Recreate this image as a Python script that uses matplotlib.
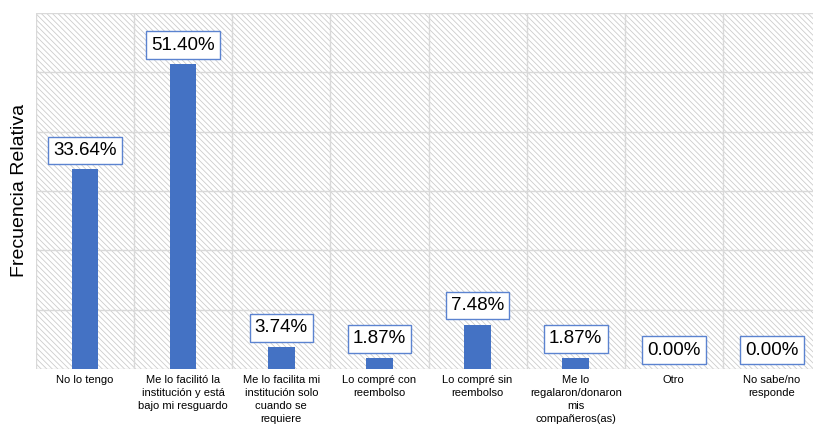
import matplotlib
matplotlib.use("Agg")
import matplotlib.pyplot as plt
from matplotlib.patches import Rectangle

categories = [
    "No lo tengo",
    "Me lo facilitó la\ninstitución y está\nbajo mi resguardo",
    "Me lo facilita mi\ninstitución solo\ncuando se\nrequiere",
    "Lo compré con\nreembolso",
    "Lo compré sin\nreembolso",
    "Me lo\nregalaron/donaron\nmis\ncompañeros(as)",
    "Otro",
    "No sabe/no\nresponde",
]
values = [33.64, 51.40, 3.74, 1.87, 7.48, 1.87, 0.00, 0.00]
value_labels = ["33.64%", "51.40%", "3.74%", "1.87%", "7.48%", "1.87%", "0.00%", "0.00%"]

plt.rcParams['font.family'] = ['Liberation Sans', 'DejaVu Sans']
plt.rcParams['hatch.linewidth'] = 0.6

fig = plt.figure(figsize=(8.13, 4.30), dpi=100)
ax = fig.add_axes([36/813, 61/430, 785/813, 356/430])

bg = Rectangle((0, 0), 1, 1, transform=ax.transAxes, facecolor='white',
               edgecolor='#cccccc', linewidth=0, hatch='\\' * 6, zorder=0.1)
ax.add_patch(bg)

x = list(range(len(categories)))
ax.bar(x, values, width=0.27, color='#4472C4', zorder=3)

for xi, v, lab in zip(x, values, value_labels):
    ax.annotate(lab, xy=(xi, v), xytext=(0, 7.5), textcoords='offset points',
                ha='center', va='bottom', fontsize=13.5, color='#000000',
                bbox=dict(boxstyle='square,pad=0.28', fc='white', ec='#5B83D0', lw=1.0),
                zorder=5)

ax.set_xlim(-0.5, len(categories) - 0.5)
ax.set_ylim(0, 60)
ax.set_yticks([0, 10, 20, 30, 40, 50, 60])
ax.set_yticklabels([])
ax.set_xticks(x)
ax.set_xticklabels(categories, fontsize=8, linespacing=1.38)
ax.set_xticks([i - 0.5 for i in range(len(categories) + 1)], minor=True)
ax.tick_params(axis='both', which='both', length=0)
ax.tick_params(axis='x', which='major', pad=4)
ax.grid(axis='y', which='major', color='#d9d9d9', linewidth=1.0, zorder=0.5)
ax.grid(axis='x', which='minor', color='#d9d9d9', linewidth=1.0, zorder=0.5)
ax.set_axisbelow(True)
for s in ax.spines.values():
    s.set_visible(False)

fig.text(20/813, 1 - 190/430, "Frecuencia Relativa", rotation=90, ha='center', va='center', fontsize=14)

fig.savefig("out.png", dpi=100)
